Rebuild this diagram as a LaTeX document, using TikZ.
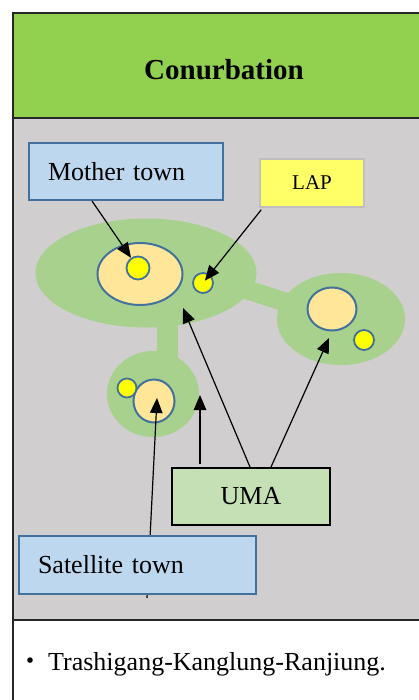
\documentclass[tikz,border=0pt]{standalone}
\usepackage{fontspec}
\setmainfont{Liberation Serif}
\newfontfamily\cjk{Noto Sans CJK JP}
\usetikzlibrary{shapes.geometric,arrows.meta,calc}

\definecolor{headgreen}{HTML}{92D050}
\definecolor{panelgray}{HTML}{D0CECE}
\definecolor{areagreen}{HTML}{A9D18E}
\definecolor{townorange}{HTML}{FFE699}
\definecolor{lapyellow}{HTML}{FFFF00}
\definecolor{edgeblue}{HTML}{41719C}
\definecolor{labelblue}{HTML}{BDD7EE}
\definecolor{umagreen}{HTML}{C5E0B4}
\definecolor{lapbox}{HTML}{FFFF66}
\definecolor{lapedge}{HTML}{BFBFBF}
\definecolor{framecol}{HTML}{262626}

\tikzset{
  area/.style={ellipse, fill=areagreen, inner sep=0pt},
  town/.style={ellipse, fill=townorange, draw=edgeblue, line width=2pt, inner sep=0pt},
  core/.style={circle, fill=lapyellow, draw=edgeblue, line width=1.8pt, inner sep=0pt},
  bluelabel/.style={rectangle, fill=labelblue, draw=edgeblue, line width=2pt,
    font=\fontsize{26}{30}\selectfont, align=left, inner xsep=19pt, inner ysep=0pt},
  arr/.style={line width=1.2pt, -{Triangle[length=15pt,width=12.5pt]}},
}

\begin{document}
\begin{tikzpicture}[x=1pt,y=-1pt]
\useasboundingbox (0,0) rectangle (419,700);

% panels
\fill[headgreen] (13,13) rectangle (419,118);
\fill[panelgray] (13,118) rectangle (419,620);
\draw[framecol, line width=1.8pt] (13,700) -- (13,13) -- (419,13);
\draw[framecol, line width=1.8pt] (13,118) -- (419,118);
\draw[framecol, line width=1.8pt] (13,620) -- (419,620);

\node[font=\fontsize{29}{34}\selectfont\bfseries] (title) at (224,70) {Conurbation};

% urban area: bands joining the green patches
\fill[areagreen] (157,300) rectangle (178,365);
\draw[areagreen, line width=19pt] (235,286) -- (298,306);

\node[area, minimum width=221pt, minimum height=109pt] (main) at (146,273) {};
\node[area, minimum width=128pt, minimum height=92pt] (east) at (341,319) {};
\node[area, minimum width=92pt, minimum height=86pt] (south) at (153,394) {};

% towns and local area plans
\node[town, minimum width=85pt, minimum height=62pt] (mtown) at (140,274) {};
\node[core, minimum size=23pt] (mcore) at (138,268) {};
\node[core, minimum size=20pt] (lapdot) at (203,283) {};
\node[town, minimum width=49pt, minimum height=43pt] (etown) at (332,309) {};
\node[core, minimum size=20pt] (edot) at (364,340) {};
\node[town, minimum width=41pt, minimum height=43pt] (stown) at (154,401) {};
\node[core, minimum size=19pt] (sdot) at (127,388) {};

% label boxes
\node[bluelabel, text width=156pt, minimum height=57pt] (mother) at (126,171.5) {Mother town};
\node[rectangle, fill=lapbox, draw=lapedge, line width=1.5pt, minimum width=104pt,
  minimum height=48pt, font=\fontsize{21}{25}\selectfont] (lap) at (312,183) {LAP};
\node[rectangle, fill=umagreen, draw=black, line width=2pt, minimum width=158pt,
  minimum height=57pt, font=\fontsize{26}{30}\selectfont] (uma) at (251,496.5) {UMA};

% arrow targets
\coordinate (tmain) at (183,308);
\coordinate (teast) at (329,338);
\coordinate (tgap) at (200,395);
\coordinate (tsat) at (157,398);
\coordinate (satfoot) at (147,598);

% connectors
\draw[arr] ($(mother.south west)+(64,0)$) -- (mcore);
\draw[arr, shorten >=3pt] ($(lap.south west)+(2,2)$) -- (lapdot.center);
\draw[arr] ($(uma.north west)+(79,0)$) -- (tmain);
\draw[arr] ($(uma.north west)+(100,0)$) -- (teast);
\draw[arr, shorten <=3pt] (uma.north -| tgap) -- (tgap);
\draw[arr] (satfoot) -- (tsat);

\node[bluelabel, text width=199pt, minimum height=58pt] (satellite) at (137.5,565) {Satellite town};

% note below the panel
\node[anchor=base west, font=\fontsize{26}{30}\selectfont, inner sep=0pt] (note) at (17,670)
  {{\cjk ・}\hspace{5pt}Trashigang-Kanglung-Ranjiung.};
\end{tikzpicture}
\end{document}
